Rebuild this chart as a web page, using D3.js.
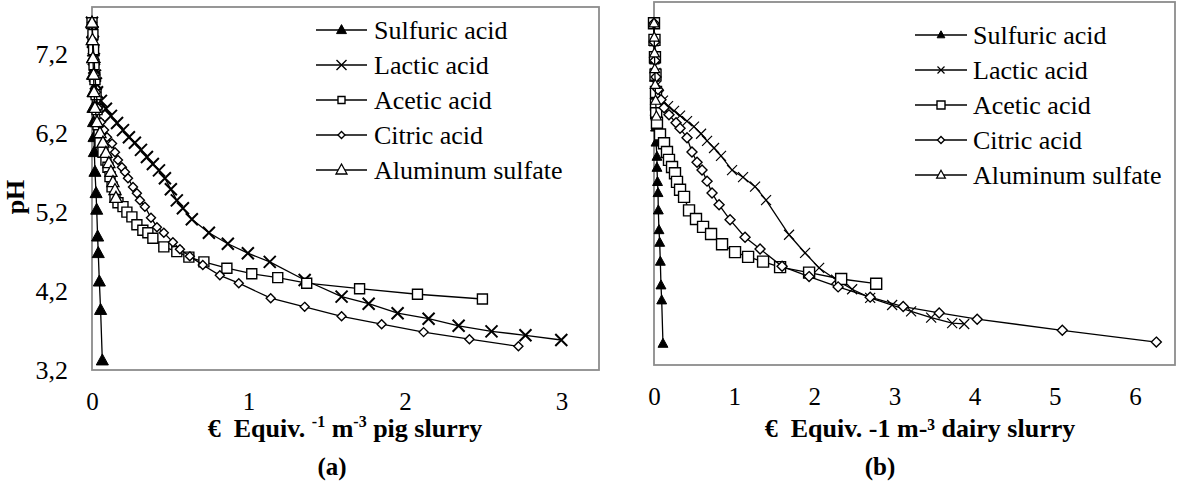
<!DOCTYPE html>
<html>
<head>
<meta charset="utf-8">
<script src="https://cdn.jsdelivr.net/npm/d3@7"></script>
<style>
  body { margin: 0; background: #fff; }
</style>
</head>
<body>
<div id="chart"></div>
<script>
const width = 1178;
const height = 484;
const serif = "'Liberation Serif', 'DejaVu Serif', 'Times New Roman', serif";

const seriesNames = ["Sulfuric acid", "Lactic acid", "Acetic acid", "Citric acid", "Aluminum sulfate"];
const yTicks = [3.2, 4.2, 5.2, 6.2, 7.2];
const pigXTicks = [0, 1, 2, 3];
const dairyXTicks = [0, 1, 2, 3, 4, 5, 6];

// (a) pig slurry: [€ equiv per m3, pH]
const pigSulfuric = [[0, 7.6], [0, 7.38], [0.003, 7.15], [0.003, 6.94], [0.006, 6.72], [0.006, 6.52], [0.01, 6.34],
  [0.013, 6.15], [0.015, 5.96], [0.019, 5.71], [0.026, 5.44], [0.03, 5.23], [0.036, 4.89], [0.04, 4.68],
  [0.047, 4.32], [0.055, 3.96], [0.066, 3.32]];
const pigLactic = [[0, 7.6], [0.003, 7.48], [0.006, 7.36], [0.009, 7.25], [0.012, 7.14], [0.015, 7.03], [0.019, 6.93],
  [0.025, 6.83], [0.032, 6.72], [0.057, 6.61], [0.089, 6.51], [0.121, 6.42], [0.16, 6.33], [0.198, 6.24],
  [0.236, 6.15], [0.274, 6.08], [0.313, 5.99], [0.351, 5.9], [0.389, 5.81], [0.428, 5.73], [0.466, 5.63],
  [0.504, 5.49], [0.542, 5.35], [0.581, 5.25], [0.638, 5.11], [0.747, 4.94], [0.868, 4.8], [0.996, 4.68],
  [1.136, 4.57], [1.359, 4.34], [1.595, 4.13], [1.768, 4.04], [1.953, 3.92], [2.151, 3.85], [2.343, 3.76],
  [2.553, 3.69], [2.77, 3.64], [2.999, 3.58]];
const pigAcetic = [[0, 7.6], [0.006, 7.45], [0.01, 7.26], [0.013, 7.07], [0.019, 6.88], [0.026, 6.69], [0.032, 6.5],
  [0.038, 6.31], [0.045, 6.18], [0.051, 6.08], [0.07, 5.96], [0.089, 5.86], [0.102, 5.77], [0.115, 5.65],
  [0.128, 5.52], [0.147, 5.39], [0.166, 5.32], [0.198, 5.27], [0.223, 5.2], [0.255, 5.14], [0.287, 5.04],
  [0.325, 4.97], [0.357, 4.94], [0.389, 4.87], [0.459, 4.76], [0.542, 4.7], [0.619, 4.63], [0.715, 4.57],
  [0.862, 4.49], [1.021, 4.42], [1.187, 4.37], [1.372, 4.3], [1.71, 4.23], [2.08, 4.16], [2.495, 4.1]];
const pigCitric = [[0, 7.6], [0.006, 7.38], [0.013, 7.15], [0.019, 6.94], [0.026, 6.72], [0.038, 6.52], [0.057, 6.34],
  [0.077, 6.24], [0.096, 6.15], [0.128, 6.07], [0.147, 5.96], [0.166, 5.86], [0.191, 5.77], [0.211, 5.71],
  [0.23, 5.63], [0.262, 5.52], [0.287, 5.44], [0.306, 5.35], [0.338, 5.27], [0.377, 5.13], [0.415, 5.01],
  [0.459, 4.94], [0.517, 4.82], [0.562, 4.73], [0.625, 4.64], [0.708, 4.53], [0.817, 4.4], [0.938, 4.3],
  [1.142, 4.11], [1.359, 4.0], [1.595, 3.88], [1.851, 3.78], [2.119, 3.68], [2.412, 3.59], [2.725, 3.5]];
const pigAluminum = [[0, 7.6], [0.003, 7.38], [0.006, 7.15], [0.01, 6.94], [0.013, 6.72], [0.019, 6.52], [0.032, 6.34],
  [0.051, 6.2], [0.07, 6.08], [0.089, 5.95], [0.108, 5.82], [0.121, 5.71], [0.134, 5.58], [0.147, 5.48],
  [0.153, 5.38]];

// (b) dairy slurry: [€ equiv per m3, pH]
const dairySulfuric = [[0, 7.53], [0, 7.29], [0.006, 7.06], [0.006, 6.84], [0.012, 6.62], [0.012, 6.41], [0.019, 6.21],
  [0.025, 6.02], [0.037, 5.84], [0.037, 5.7], [0.044, 5.52], [0.05, 5.38], [0.054, 5.16], [0.062, 4.91],
  [0.071, 4.75], [0.079, 4.51], [0.087, 4.21], [0.096, 4.02], [0.112, 3.47]];
const dairyLactic = [[0, 7.53], [0.006, 7.32], [0.012, 7.1], [0.019, 6.9], [0.031, 6.74], [0.062, 6.62], [0.112, 6.55],
  [0.175, 6.48], [0.25, 6.42], [0.325, 6.36], [0.412, 6.29], [0.499, 6.22], [0.587, 6.13], [0.662, 6.04],
  [0.749, 5.95], [0.836, 5.85], [0.974, 5.67], [1.111, 5.58], [1.261, 5.46], [1.398, 5.29], [1.685, 4.85],
  [1.885, 4.62], [2.06, 4.43], [2.272, 4.28], [2.472, 4.16], [2.697, 4.05], [2.971, 3.96], [3.208, 3.88],
  [3.458, 3.8], [3.72, 3.73], [3.87, 3.72]];
const dairyAcetic = [[0, 7.53], [0.006, 7.32], [0.012, 7.1], [0.019, 6.88], [0.025, 6.66], [0.025, 6.5], [0.027, 6.39],
  [0.037, 6.27], [0.075, 6.12], [0.125, 6.01], [0.162, 5.9], [0.187, 5.8], [0.225, 5.71], [0.262, 5.63],
  [0.287, 5.52], [0.325, 5.42], [0.375, 5.33], [0.437, 5.16], [0.524, 5.05], [0.612, 4.95], [0.712, 4.86],
  [0.849, 4.73], [1.011, 4.63], [1.174, 4.57], [1.361, 4.51], [1.573, 4.44], [1.935, 4.37], [2.335, 4.29],
  [2.772, 4.23]];
const dairyCitric = [[0, 7.53], [0.006, 7.29], [0.012, 7.06], [0.025, 6.85], [0.05, 6.69], [0.087, 6.56], [0.125, 6.46],
  [0.187, 6.37], [0.275, 6.27], [0.325, 6.2], [0.412, 6.08], [0.474, 5.9], [0.537, 5.77], [0.599, 5.67],
  [0.662, 5.53], [0.724, 5.38], [0.812, 5.23], [0.949, 5.04], [1.136, 4.82], [1.323, 4.67], [1.598, 4.45],
  [1.935, 4.32], [2.297, 4.19], [2.697, 4.06], [3.109, 3.94], [3.558, 3.86], [4.032, 3.78], [5.094, 3.64],
  [6.267, 3.49]];
const dairyAluminum = [[0, 7.53], [0.003, 7.35], [0.006, 7.15], [0.01, 6.95], [0.015, 6.75], [0.02, 6.55], [0.03, 6.35]];

// marker shapes
const shapes = {
  triangle: (s) => `M0,${-s * 0.6}L${s * 0.55},${s * 0.4}L${-s * 0.55},${s * 0.4}Z`,
  cross: (s) => `M${-s / 2},${-s / 2}L${s / 2},${s / 2}M${s / 2},${-s / 2}L${-s / 2},${s / 2}`,
  square: (s) => `M${-s / 2},${-s / 2}h${s}v${s}h${-s}Z`,
  diamond: (s) => `M0,${-s / 2}L${s / 2},0L0,${s / 2}L${-s / 2},0Z`
};

const panels = [
  {
    left: 92, right: 599, top: 7, bottom: 370, xMax: 3.24, xTicks: pigXTicks, showY: true,
    series: [pigSulfuric, pigLactic, pigAcetic, pigCitric, pigAluminum],
    marks: [
      { shape: "triangle", size: 11, fill: "#000", sw: 1 },
      { shape: "cross", size: 12, fill: "none", sw: 2 },
      { shape: "square", size: 10, fill: "#fff", sw: 1.4 },
      { shape: "diamond", size: 9, fill: "#fff", sw: 1.4 },
      { shape: "triangle", size: 11, fill: "#fff", sw: 1.3 }
    ],
    legendMarks: [9, 10, 7, 7, 10],
    legend: { x1: 316, x2: 367, y: 30, step: 35, tx: 374 },
    xLabelY: 31, title: { x: 345 }, tag: { text: "(a)", x: 332 }
  },
  {
    left: 654, right: 1175, top: 2, bottom: 365, xMax: 6.5, xTicks: dairyXTicks, showY: false,
    series: [dairySulfuric, dairyLactic, dairyAcetic, dairyCitric, dairyAluminum],
    marks: [
      { shape: "triangle", size: 9, fill: "#000", sw: 1 },
      { shape: "cross", size: 10, fill: "none", sw: 1.2 },
      { shape: "square", size: 11, fill: "#fff", sw: 1.4 },
      { shape: "diamond", size: 10, fill: "#fff", sw: 1.4 },
      { shape: "triangle", size: 9, fill: "#fff", sw: 1.2 }
    ],
    legendMarks: [7, 7, 8, 7, 8],
    legend: { x1: 915, x2: 967, y: 35, step: 35, tx: 973 },
    xLabelY: 31, title: { x: 920 }, tag: { text: "(b)", x: 880 }
  }
];

const svg = d3.select("#chart").append("svg").attr("width", width).attr("height", height)
  .style("font-family", serif);

panels.forEach((p, pi) => {
  const x = d3.scaleLinear().domain([0, p.xMax]).range([p.left, p.right]);
  const y = d3.scaleLinear().domain([3.2, 7.8]).range([p.bottom, p.top]);

  const g = svg.append("g");

  g.append("rect")
    .attr("x", p.left).attr("y", p.top)
    .attr("width", p.right - p.left).attr("height", p.bottom - p.top)
    .attr("fill", "none").attr("stroke", "#8c8c8c").attr("stroke-width", 1.8);

  // axes
  const xAxis = g.append("g")
    .attr("transform", `translate(0,${p.bottom})`)
    .call(d3.axisBottom(x).tickValues(p.xTicks).tickSize(0).tickFormat(d3.format("d")));
  xAxis.select(".domain").remove();
  xAxis.selectAll("text")
    .attr("y", p.xLabelY).attr("dy", "0.35em").attr("fill", "#000")
    .style("font-family", serif).style("font-size", "25px");

  if (p.showY) {
    const yAxis = g.append("g")
      .attr("transform", `translate(${p.left},0)`)
      .call(d3.axisLeft(y).tickValues(yTicks).tickSize(0).tickPadding(24)
        .tickFormat((d) => d3.format(".1f")(d).replace(".", ",")));
    yAxis.select(".domain").remove();
    yAxis.selectAll("text").attr("fill", "#000")
      .style("font-family", serif).style("font-size", "26px");
  }

  // series
  const line = d3.line().x((d) => x(d[0])).y((d) => y(d[1]));
  p.series.forEach((data, si) => {
    const m = p.marks[si];
    g.append("path").datum(data)
      .attr("d", line).attr("fill", "none").attr("stroke", "#000").attr("stroke-width", 1.3);
    g.selectAll(null).data(data).enter().append("path")
      .attr("transform", (d) => `translate(${x(d[0])},${y(d[1])})`)
      .attr("d", shapes[m.shape](m.size))
      .attr("fill", m.fill).attr("stroke", "#000").attr("stroke-width", m.sw);
  });

  // legend
  const lg = g.append("g");
  seriesNames.forEach((name, i) => {
    const m = p.marks[i];
    const ly = p.legend.y + i * p.legend.step;
    const cx = (p.legend.x1 + p.legend.x2) / 2;
    lg.append("line")
      .attr("x1", p.legend.x1).attr("x2", p.legend.x2).attr("y1", ly).attr("y2", ly)
      .attr("stroke", "#000").attr("stroke-width", 1.3);
    lg.append("path")
      .attr("transform", `translate(${cx},${ly})`)
      .attr("d", shapes[m.shape](p.legendMarks[i]))
      .attr("fill", m.fill).attr("stroke", "#000").attr("stroke-width", Math.min(m.sw, 1.4));
    lg.append("text")
      .attr("x", p.legend.tx).attr("y", ly).attr("dy", "0.33em")
      .style("font-family", serif).style("font-size", "26px").text(name);
  });

  // axis title
  const t = g.append("text")
    .attr("x", p.title.x).attr("y", 437)
    .attr("text-anchor", "middle")
    .style("font-family", serif).style("font-size", "26px").style("font-weight", "bold");
  if (pi === 0) {
    t.append("tspan").text("€\u00a0 Equiv. ");
    t.append("tspan").attr("dy", -10).style("font-size", "16px").text("-1");
    t.append("tspan").attr("dy", 10).text(" m");
    t.append("tspan").attr("dy", -10).style("font-size", "16px").text("-3");
    t.append("tspan").attr("dy", 10).text(" pig slurry");
  } else {
    t.text("€\u00a0 Equiv. -1 m-³ dairy slurry");
  }

  g.append("text")
    .attr("x", p.tag.x).attr("y", 475)
    .attr("text-anchor", "middle")
    .style("font-family", serif).style("font-size", "25px").style("font-weight", "bold")
    .text(p.tag.text);
});

// y axis title
svg.append("text")
  .attr("transform", "translate(24,197) rotate(-90)")
  .attr("text-anchor", "middle")
  .style("font-family", serif).style("font-size", "26px").style("font-weight", "bold")
  .text("pH");
</script>
</body>
</html>
